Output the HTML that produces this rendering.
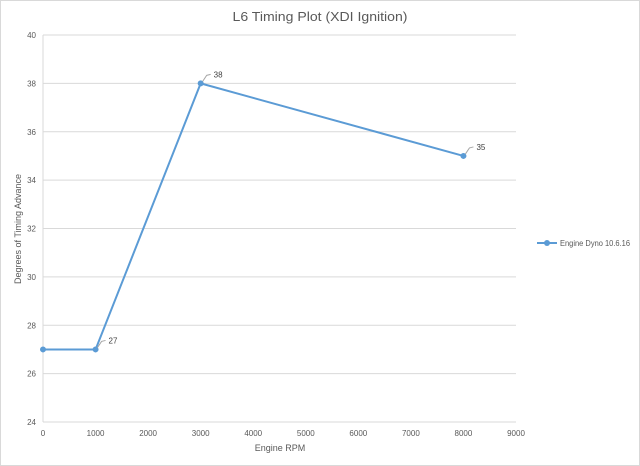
<!DOCTYPE html>
<html><head><meta charset="utf-8"><style>
body{margin:0;background:#fff;}
svg{display:block;font-family:"Liberation Sans",sans-serif;}
</style></head><body>
<svg id="chart" width="640" height="466" viewBox="0 0 640 466">
<rect x="0.5" y="0.5" width="639" height="465" fill="#fff" stroke="#d9d9d9"/>
<text x="320" y="21" text-anchor="middle" font-size="13" fill="#595959" textLength="175" lengthAdjust="spacingAndGlyphs">L6 Timing Plot (XDI Ignition)</text>
<g id="grid"></g><g id="axes"></g><g id="series"></g>
<text x="280" y="451" text-anchor="middle" font-size="9" fill="#595959">Engine RPM</text>
<text transform="translate(21,229) rotate(-90)" text-anchor="middle" font-size="9" fill="#595959" textLength="110" lengthAdjust="spacingAndGlyphs">Degrees of Timing Advance</text>
<g>
<line x1="537" y1="243" x2="557" y2="243" stroke="#5b9bd5" stroke-width="2"/>
<circle cx="547" cy="243" r="3" fill="#5b9bd5"/>
<text x="560" y="246" font-size="8" fill="#595959" textLength="70" lengthAdjust="spacingAndGlyphs">Engine Dyno 10.6.16</text>
</g>
</svg>
<script>
const rpm=[0,1000,3000,8000];
const advance=[27,27,38,35];
const labeled=[false,true,true,true];
const xTicks=[0,1000,2000,3000,4000,5000,6000,7000,8000,9000];
const yTicks=[24,26,28,30,32,34,36,38,40];
const NS="http://www.w3.org/2000/svg";
const X=v=>43+(v/9000)*(516-43);
const Y=v=>422-(v-24)/16*(422-35);
function mk(t,a,p){const e=document.createElementNS(NS,t);for(const k in a)e.setAttribute(k,a[k]);p.appendChild(e);return e;}
const grid=document.getElementById('grid'),axes=document.getElementById('axes'),ser=document.getElementById('series');
yTicks.forEach(v=>{
 const l=mk('line',{x1:43,x2:516,y1:Y(v),y2:Y(v),stroke:'#d9d9d9','stroke-width':1},grid);
 
 
 const t=mk('text',{x:36,y:Y(v)+3,'text-anchor':'end','font-size':8,fill:'#595959'},axes);
 t.textContent=v;
 
 
});
const ax=mk('line',{x1:43,x2:43,y1:35,y2:422,stroke:'#d9d9d9'},axes);


xTicks.forEach(v=>{
 const t=mk('text',{x:X(v),y:436,'text-anchor':'middle','font-size':8,fill:'#595959'},axes);
 t.textContent=v;
 
 
});
const pl=mk('polyline',{points:rpm.map((r,i)=>X(r)+','+Y(advance[i])).join(' '),fill:'none',stroke:'#5b9bd5','stroke-width':2},ser);


rpm.forEach((r,i)=>{
 const c=mk('circle',{cx:X(r),cy:Y(advance[i]),r:3,fill:'#5b9bd5'},ser);
 
 
 if(labeled[i]){
  const x=X(r),y=Y(advance[i]);
  const ld=mk('polyline',{points:`${x+2},${y-2} ${x+6},${y-8} ${x+10},${y-9}`,fill:'none',stroke:'#a6a6a6','stroke-width':1},ser);
  
  
  const t=mk('text',{x:x+13,y:y-6,'font-size':8,fill:'#404040'},ser);
  t.textContent=advance[i];
  
  
 }
});
</script>
</body></html>
